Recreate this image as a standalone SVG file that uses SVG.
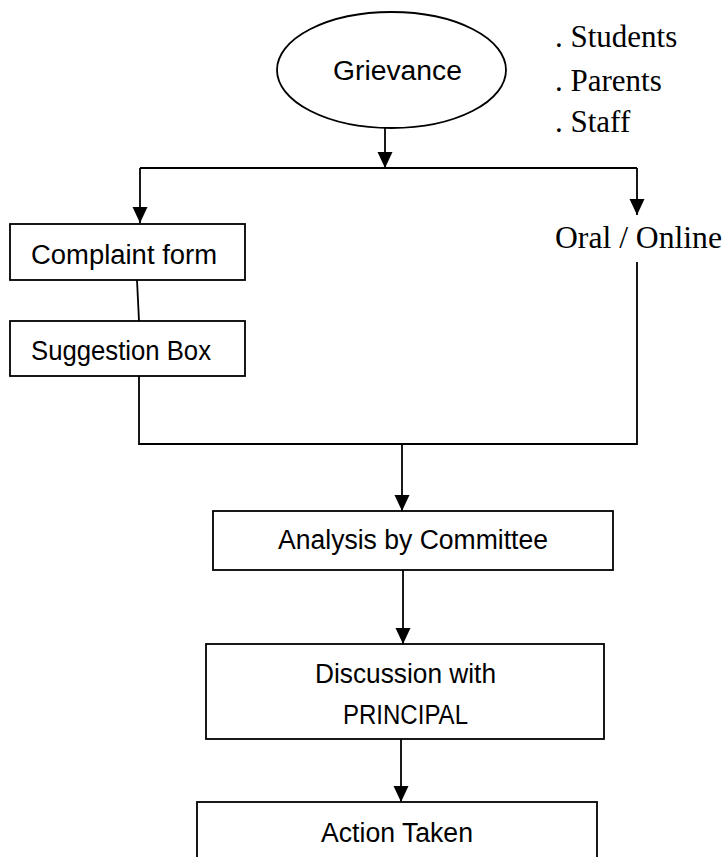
<svg xmlns="http://www.w3.org/2000/svg" width="727" height="857" viewBox="0 0 727 857">
<style>
.box{fill:#fff;stroke:#000;stroke-width:1.8}
.lbl{font-family:"Liberation Sans",Arial,sans-serif;font-size:27px;fill:#000}
.tm{font-family:"Liberation Serif","Times New Roman",serif;font-size:31px;fill:#000}
.ln{fill:none;stroke:#000;stroke-width:1.8}
</style>
<defs>
<marker id="ah" markerUnits="userSpaceOnUse" markerWidth="16" markerHeight="16" refX="16" refY="7.5" orient="auto">
<path d="M0,0 L16,7.5 L0,15 z" fill="#000"/>
</marker>
</defs>
<rect width="727" height="857" fill="#fff"/>
<g id="connectors">
<path class="ln" d="M385,121 V168" marker-end="url(#ah)"/>
<path class="ln" d="M140,168 H637"/>
<path class="ln" d="M140,168 V223" marker-end="url(#ah)"/>
<path class="ln" d="M637,168 V215" marker-end="url(#ah)"/>
<path class="ln" d="M137,280 L139,321"/>
<path class="ln" d="M139,376 V444 H637 V262"/>
<path class="ln" d="M402,444 V511" marker-end="url(#ah)"/>
<path class="ln" d="M403,570 V644" marker-end="url(#ah)"/>
<path class="ln" d="M401,739 V802" marker-end="url(#ah)"/>
</g>
<g id="grievance">
<ellipse class="box" cx="391.5" cy="70" rx="114.5" ry="58"/>
<text class="lbl" x="333" y="80" textLength="129" lengthAdjust="spacingAndGlyphs">Grievance</text>
</g>
<g id="sources">
<text class="tm" x="555" y="47">. Students</text>
<text class="tm" x="555" y="91">. Parents</text>
<text class="tm" x="555" y="132">. Staff</text>
</g>
<g id="complaint-form">
<rect class="box" x="10" y="224" width="235" height="56"/>
<text class="lbl" x="31" y="264" textLength="186" lengthAdjust="spacingAndGlyphs">Complaint form</text>
</g>
<g id="suggestion-box">
<rect class="box" x="10" y="321" width="235" height="55"/>
<text class="lbl" x="31" y="360" textLength="180" lengthAdjust="spacingAndGlyphs">Suggestion Box</text>
</g>
<g id="oral-online">
<text class="tm" x="555" y="248" style="font-size:31.6px" textLength="167" lengthAdjust="spacingAndGlyphs">Oral / Online</text>
</g>
<g id="analysis">
<rect class="box" x="213" y="511" width="400" height="59"/>
<text class="lbl" x="278" y="549" textLength="270" lengthAdjust="spacingAndGlyphs">Analysis by Committee</text>
</g>
<g id="discussion">
<rect class="box" x="206" y="644" width="398" height="95"/>
<text class="lbl" x="315" y="683" textLength="181" lengthAdjust="spacingAndGlyphs">Discussion with</text>
<text class="lbl" x="343" y="724" textLength="125" lengthAdjust="spacingAndGlyphs">PRINCIPAL</text>
</g>
<g id="action">
<rect class="box" x="197" y="802" width="400" height="80"/>
<text class="lbl" x="321" y="842" textLength="152" lengthAdjust="spacingAndGlyphs">Action Taken</text>
</g>
</svg>
